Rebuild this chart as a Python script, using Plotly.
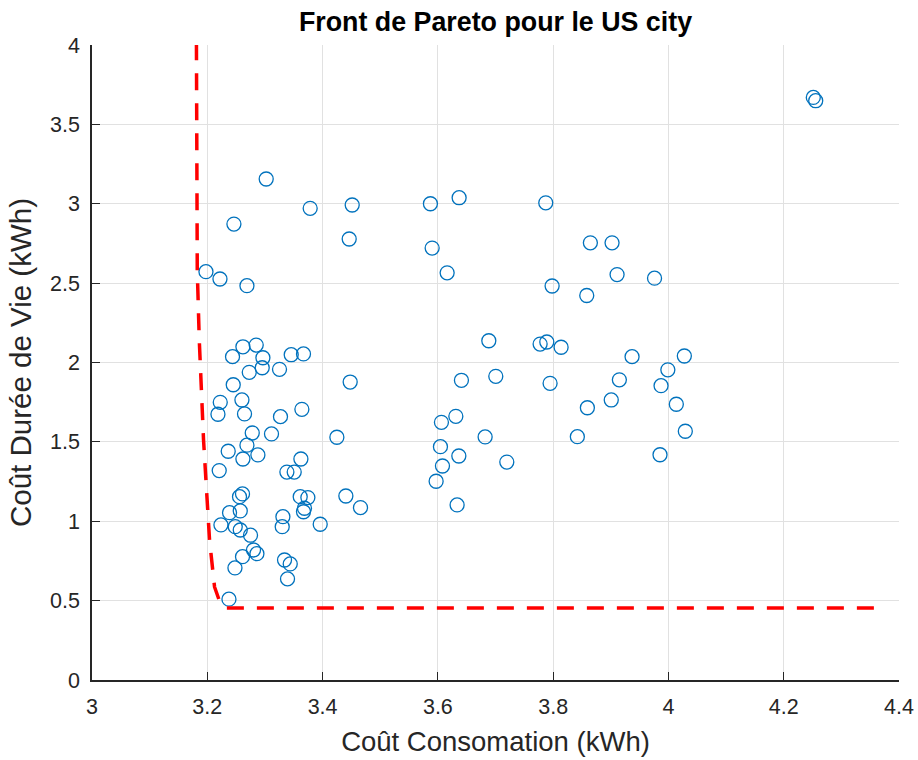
import plotly.graph_objects as go

# Solutions (coût consommation, coût durée de vie)
cout_conso = [
    4.2513, 4.2555, 3.3022, 3.3785, 3.4514, 3.2462, 3.4462, 3.1977, 3.2220, 3.2688,
    3.5871, 3.6369, 3.7872, 3.5901, 3.6161, 3.8646, 3.9022, 3.7982, 3.9109, 3.9759,
    3.8583, 3.6884, 3.7774, 3.7890, 3.8138, 3.9369, 4.0276, 3.9990, 3.7005, 3.6409,
    3.7947, 3.9149, 3.9872, 3.9008, 4.0137, 3.8594, 3.6062, 3.6312, 4.0293, 3.6820,
    3.8420, 3.6045, 3.6364, 3.9854, 3.6080, 3.7196, 3.5970, 3.6334,
    3.2618, 3.2849, 3.2438, 3.2965, 3.3456, 3.3669, 3.2728, 3.2953, 3.3253, 3.4479,
    3.2450, 3.2225, 3.2601, 3.2185, 3.2646, 3.3270, 3.3641, 3.2780, 3.3114, 3.4248,
    3.2363, 3.2688, 3.2618, 3.2878, 3.3624, 3.2207, 3.3381, 3.3508, 3.2611, 3.2559,
    3.3612, 3.3745, 3.4404, 3.4658, 3.2386, 3.2572, 3.3686, 3.3669, 3.3312, 3.3300,
    3.3959, 3.2237, 3.2485, 3.2572, 3.2750, 3.2802, 3.2861, 3.2611, 3.2480, 3.3340,
    3.3439, 3.3392, 3.2376,
]
cout_duree_vie = [
    3.670, 3.649, 3.156, 2.971, 2.992, 2.872, 2.778, 2.572, 2.526, 2.484,
    3.000, 3.038, 3.006, 2.721, 2.565, 2.754, 2.754, 2.482, 2.554, 2.531,
    2.422, 2.137, 2.116, 2.129, 2.096, 2.037, 2.041, 1.954, 1.913, 1.888,
    1.869, 1.891, 1.854, 1.764, 1.737, 1.715, 1.623, 1.661, 1.567, 1.531,
    1.533, 1.470, 1.411, 1.419, 1.348, 1.373, 1.252, 1.103,
    2.099, 2.110, 2.037, 2.030, 2.049, 2.054, 1.938, 1.967, 1.957, 1.877,
    1.860, 1.749, 1.764, 1.674, 1.676, 1.659, 1.705, 1.556, 1.550, 1.529,
    1.441, 1.479, 1.392, 1.418, 1.392, 1.319, 1.310, 1.310, 1.172, 1.155,
    1.155, 1.149, 1.159, 1.086, 1.054, 1.065, 1.082, 1.060, 1.029, 0.966,
    0.981, 0.977, 0.966, 0.945, 0.912, 0.819, 0.796, 0.777, 0.706, 0.756,
    0.731, 0.637, 0.509,
]

# Front de Pareto (ligne pointillée rouge)
front_x = [3.1810, 3.1817, 3.1826, 3.1861, 3.1935, 3.2039, 3.2126, 3.2225, 3.2311, 4.3740]
front_y = [4.200, 3.275, 2.583, 2.142, 1.512, 0.882, 0.586, 0.484, 0.454, 0.454]

x_ticks = [3, 3.2, 3.4, 3.6, 3.8, 4, 4.2, 4.4]
x_tick_labels = ["3", "3.2", "3.4", "3.6", "3.8", "4", "4.2", "4.4"]
y_ticks = [0, 0.5, 1, 1.5, 2, 2.5, 3, 3.5, 4]
y_tick_labels = ["0", "0.5", "1", "1.5", "2", "2.5", "3", "3.5", "4"]

FONT = "Liberation Sans, Arial, Helvetica, sans-serif"
AXC = "#262626"

fig = go.Figure()
fig.add_trace(go.Scatter(
    x=cout_conso, y=cout_duree_vie, mode="markers",
    marker=dict(symbol="circle-open", size=14, color="#0072BD",
                line=dict(width=1.3, color="#0072BD")),
    showlegend=False, cliponaxis=True,
))
fig.add_trace(go.Scatter(
    x=front_x, y=front_y, mode="lines",
    line=dict(color="#FF0000", width=3.5, dash="17px,13px"),
    showlegend=False,
))

fig.update_layout(
    width=918, height=760,
    margin=dict(l=92, r=19, t=45, b=80, autoexpand=False),
    paper_bgcolor="white", plot_bgcolor="white",
    font=dict(family=FONT, color=AXC),
    title=dict(text="<b>Front de Pareto pour le US city</b>",
               x=(92 + 899) / 2 / 918, xanchor="center",
               y=1 - 22 / 760, yanchor="middle",
               font=dict(family=FONT, size=26.8, color="black")),
)
fig.update_xaxes(
    range=[3, 4.4], tickvals=x_ticks, ticktext=x_tick_labels,
    automargin=False,
    showgrid=True, gridcolor="#E1E1E1", gridwidth=1,
    showline=True, linecolor=AXC, linewidth=1.6,
    ticks="inside", ticklen=8, tickwidth=1.2, tickcolor=AXC,
    tickfont=dict(family=FONT, size=21.5, color=AXC),
    ticklabelstandoff=6,
    zeroline=False, mirror=False,
    title=dict(text="Coût Consomation (kWh)", font=dict(family=FONT, size=27.5, color=AXC),
               standoff=14),
)
fig.update_yaxes(
    range=[0, 4], tickvals=y_ticks, ticktext=y_tick_labels,
    automargin=False,
    showgrid=True, gridcolor="#E1E1E1", gridwidth=1,
    showline=True, linecolor=AXC, linewidth=1.6,
    ticks="inside", ticklen=8, tickwidth=1.2, tickcolor=AXC,
    tickfont=dict(family=FONT, size=21.5, color=AXC),
    ticklabelstandoff=6,
    zeroline=False, mirror=False,
    title=dict(text="Coût Durée de Vie (kWh)", font=dict(family=FONT, size=29.5, color=AXC),
               standoff=10),
)

fig.write_html("out.html", config={"displayModeBar": False},
               post_script="document.body.style.margin='0px';")
